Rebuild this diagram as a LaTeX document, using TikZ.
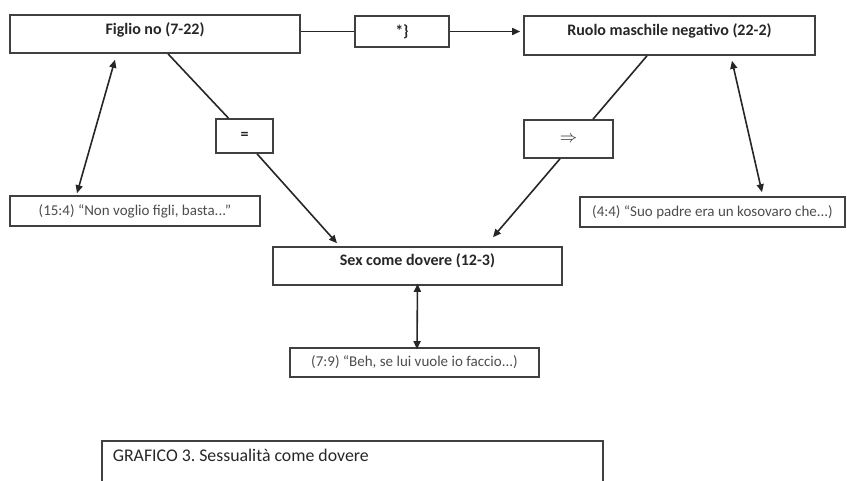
\documentclass[tikz,border=0pt]{standalone}
\usepackage{fontspec}
\setmainfont{Carlito}
\usetikzlibrary{arrows.meta, positioning}

\begin{document}
\frenchspacing
\begin{tikzpicture}[
  x=1pt, y=-1pt,
  box/.style={draw=black!75, line width=1.6pt, rectangle, inner sep=0pt, text=black!85, font=\fontsize{16}{18}\selectfont\bfseries},
  quote/.style={draw=black!75, line width=1.6pt, rectangle, inner sep=0pt, text=black!70, font=\fontsize{15}{17}\selectfont, minimum height=30pt},
  link/.style={draw=black!85, line width=1.6pt},
  >={Triangle[length=8pt, width=7pt]}
]
  \useasboundingbox (0,0) rectangle (847,480);

  \node[box, minimum width=290pt, text height=19pt, text depth=19pt] (F) at (155,34) {Figlio no (7-22)};
  \node[box, minimum width=291pt, text height=19pt, text depth=20pt] (R) at (669.5,35.5) {Ruolo maschile negativo (22-2)};
  \node[box, minimum width=289pt, text height=18pt, text depth=20pt] (S) at (417.5,266) {Sex come dovere (12-3)};
  \node[box, minimum width=94pt, minimum height=31pt] (star) at (402,31.5) {*\}};
  \node[box, minimum width=57pt, minimum height=34pt] (eq) at (244.5,136) {=};
  \node[box, minimum width=89pt, minimum height=38pt, font=\fontsize{18}{20}\selectfont] (imp) at (568.5,139) {$\Rightarrow$};

  \node[quote, minimum width=250pt] (q1) at (135,211) {(15:4) ``Non voglio figli, basta...''};
  \node[quote, minimum width=265pt] (q2) at (712.5,212) {(4:4) ``Suo padre era un kosovaro che...)};
  \node[quote, minimum width=249pt, minimum height=29pt] (q3) at (414.5,362.5) {(7:9) ``Beh, se lui vuole io faccio...)};

  \node[draw=black!75, line width=1.6pt, anchor=north west, inner xsep=11pt, inner ysep=0pt,
        text height=21pt, text depth=29pt,
        font=\fontsize{17.8}{20}\selectfont, text=black!85] (cap) at (101,440)
        {\makebox[479pt][l]{GRAFICO 3. Sessualità come dovere}};

  % Collegamenti in alto
  \draw[link] (F.east |- star.west) -- (star.west);
  \draw[link, ->] (star.east) -- ([xshift=-3pt]R.west |- star.east);
  % Figlio no
  \draw[link, <->] ([shift={(-40,6)}]F.south) -- ([shift={(-58,-2)}]q1.north);
  \draw[link] ([xshift=13pt]F.south) -- ([xshift=-16pt]eq.north);
  \draw[link, ->] ([xshift=12.5pt]eq.south) -- ([shift={(-80.5,-3)}]S.north);
  % Ruolo maschile
  \draw[link] ([xshift=-22.5pt]R.south) -- ([xshift=24.5pt]imp.north);
  \draw[link, ->] ([xshift=-8.5pt]imp.south) -- ([shift={(75.5,-9)}]S.north);
  \draw[link, <->] ([shift={(62.5,5)}]R.south) -- ([shift={(49.5,-4)}]q2.north);
  % Sex come dovere
  \draw[link, <->] ([yshift=2pt]S.south) -- ([xshift=2.5pt, yshift=-2pt]q3.north);
\end{tikzpicture}
\end{document}
